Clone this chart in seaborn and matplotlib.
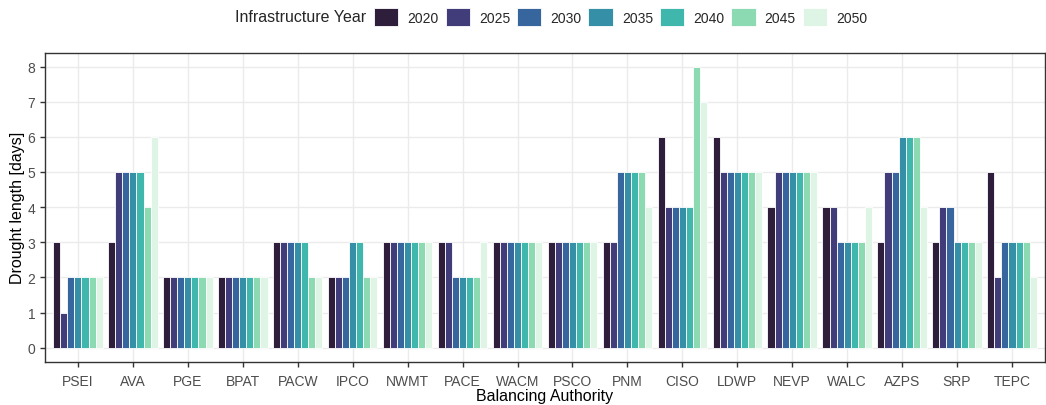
import matplotlib
matplotlib.use('Agg')
import matplotlib.pyplot as plt
import seaborn as sns
import pandas as pd

# Drought length (days) per balancing authority, one list per infrastructure year
authorities = ['PSEI', 'AVA', 'PGE', 'BPAT', 'PACW', 'IPCO', 'NWMT', 'PACE', 'WACM',
               'PSCO', 'PNM', 'CISO', 'LDWP', 'NEVP', 'WALC', 'AZPS', 'SRP', 'TEPC']
years = ['2020', '2025', '2030', '2035', '2040', '2045', '2050']

y2020 = [3, 3, 2, 2, 3, 2, 3, 3, 3, 3, 3, 6, 6, 4, 4, 3, 3, 5]
y2025 = [1, 5, 2, 2, 3, 2, 3, 3, 3, 3, 3, 4, 5, 5, 4, 5, 4, 2]
y2030 = [2, 5, 2, 2, 3, 2, 3, 2, 3, 3, 5, 4, 5, 5, 3, 5, 4, 3]
y2035 = [2, 5, 2, 2, 3, 3, 3, 2, 3, 3, 5, 4, 5, 5, 3, 6, 3, 3]
y2040 = [2, 5, 2, 2, 3, 3, 3, 2, 3, 3, 5, 4, 5, 5, 3, 6, 3, 3]
y2045 = [2, 4, 2, 2, 2, 2, 3, 2, 3, 3, 5, 8, 5, 5, 3, 6, 3, 3]
y2050 = [2, 6, 2, 2, 2, 2, 3, 3, 3, 3, 4, 7, 5, 5, 4, 4, 3, 2]

year_colors = ['#2E1E3B', '#413D7B', '#37659E', '#348FA7', '#40B7AD', '#8BDAB2', '#DEF5E5']

series = [y2020, y2025, y2030, y2035, y2040, y2045, y2050]
rows = []
for yr, vals in zip(years, series):
    for ba, v in zip(authorities, vals):
        rows.append({'ba': ba, 'year': yr, 'days': v})
df = pd.DataFrame(rows)

sns.set_style('white')
plt.rcParams['font.family'] = ['Liberation Sans', 'DejaVu Sans']

fig = plt.figure(figsize=(10.46, 4.06), dpi=100)
ax = fig.add_axes([45 / 1046, 1 - 362.7 / 406, 1 - 45 / 1046 - 0.001, (362.7 - 53.5) / 406])

sns.barplot(data=df, x='ba', y='days', hue='year', order=authorities, hue_order=years,
            palette=year_colors, saturation=1, width=0.9, edgecolor='white', linewidth=0.6,
            ax=ax, zorder=3)

ax.set_xlim(-0.6, 17.6)
ax.set_ylim(-0.4, 8.4)
ax.set_yticks(range(0, 9))
ax.grid(True, color='#EBEBEB', linewidth=1.0, zorder=0)
ax.set_axisbelow(True)
for s in ax.spines.values():
    s.set_color('#333333')
    s.set_linewidth(1.0)
ax.tick_params(axis='both', colors='#333333', length=3.5, width=1.0,
               labelcolor='#4D4D4D', labelsize=10, direction='out')
ax.tick_params(axis='x', pad=5)
ax.tick_params(axis='both', which='both', bottom=True, left=True)
ax.set_xlabel('Balancing Authority', fontsize=11.5, color='black', labelpad=0)
ax.set_ylabel('Drought length [days]', fontsize=11.5, color='black', labelpad=2)

handles, labels = ax.get_legend_handles_labels()
ax.get_legend().remove()
fig.text(235 / 1046, 1 - 18 / 406, 'Infrastructure Year', fontsize=11.5,
         va='center', ha='left')
fig.legend(handles, labels, loc='center left', bbox_to_anchor=(374 / 1046, 1 - 18 / 406),
           ncol=7, frameon=False, fontsize=10, handlelength=1.75, handleheight=1.7,
           handletextpad=0.65, columnspacing=0.5, borderpad=0, borderaxespad=0)

fig.savefig('out.png', dpi=100)
